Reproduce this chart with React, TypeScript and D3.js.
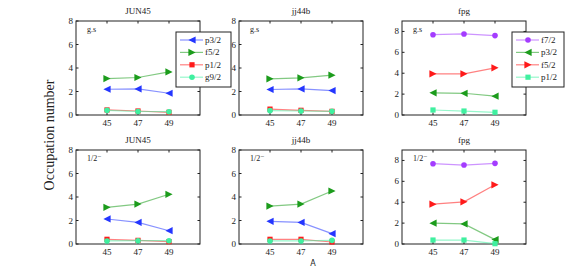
import React, { useRef, useEffect } from 'react';
import * as d3 from 'd3';

// mass numbers on the x axis
const A = [45, 47, 49];

// JUN45 interaction
const jun45Orbits = ['p3/2', 'f5/2', 'p1/2', 'g9/2'];
const jun45Gs = [
  [2.19, 2.22, 1.85],
  [3.1, 3.19, 3.67],
  [0.43, 0.34, 0.23],
  [0.4, 0.3, 0.28],
];
const jun45Half = [
  [2.13, 1.84, 1.13],
  [3.12, 3.4, 4.23],
  [0.4, 0.31, 0.2],
  [0.26, 0.28, 0.28],
];

// jj44b interaction
const jj44bOrbits = ['p3/2', 'f5/2', 'p1/2', 'g9/2'];
const jj44bGs = [
  [2.17, 2.22, 2.08],
  [3.08, 3.16, 3.39],
  [0.5, 0.4, 0.31],
  [0.37, 0.34, 0.31],
];
const jj44bHalf = [
  [1.93, 1.84, 0.88],
  [3.23, 3.4, 4.51],
  [0.4, 0.4, 0.17],
  [0.26, 0.26, 0.31],
];

// fpg interaction
const fpgOrbits = ['f7/2', 'p3/2', 'f5/2', 'p1/2'];
const fpgGs = [
  [7.69, 7.76, 7.6],
  [2.12, 2.08, 1.8],
  [3.94, 3.94, 4.52],
  [0.48, 0.38, 0.26],
];
const fpgHalf = [
  [7.69, 7.56, 7.72],
  [1.99, 1.92, 0.42],
  [3.81, 4.04, 5.67],
  [0.38, 0.38, 0.03],
];

const yTicks = [0, 2, 4, 6, 8];

const blue = '#2436ff';
const green = '#1c9c1c';
const red = '#ff1a1a';
const mint = '#3ff0a0';
const purple = '#a43cff';

const jjStyle: Record<string, [string, string]> = {
  'p3/2': [blue, 'left'],
  'f5/2': [green, 'right'],
  'p1/2': [red, 'square'],
  'g9/2': [mint, 'circle'],
};
const fpgStyle: Record<string, [string, string]> = {
  'f7/2': [purple, 'circle'],
  'p3/2': [green, 'left'],
  'f5/2': [red, 'right'],
  'p1/2': [mint, 'square'],
};

const panels = [
  { title: 'JUN45', tag: 'g.s', orbits: jun45Orbits, vals: jun45Gs, style: jjStyle, ymax: 8, col: 0, row: 0, legend: true },
  { title: 'jj44b', tag: 'g.s', orbits: jj44bOrbits, vals: jj44bGs, style: jjStyle, ymax: 8, col: 1, row: 0, legend: false },
  { title: 'fpg', tag: 'g.s', orbits: fpgOrbits, vals: fpgGs, style: fpgStyle, ymax: 9, col: 2, row: 0, legend: true },
  { title: 'JUN45', tag: '1/2\u207B', orbits: jun45Orbits, vals: jun45Half, style: jjStyle, ymax: 8, col: 0, row: 1, legend: false },
  { title: 'jj44b', tag: '1/2\u207B', orbits: jj44bOrbits, vals: jj44bHalf, style: jjStyle, ymax: 8, col: 1, row: 1, legend: false },
  { title: 'fpg', tag: '1/2\u207B', orbits: fpgOrbits, vals: fpgHalf, style: fpgStyle, ymax: 9, col: 2, row: 1, legend: false },
];

const font = 'Liberation Serif, DejaVu Serif, Times, serif';

function marker(g: any, kind: string, x: number, y: number, color: string) {
  const s = 3.6;
  if (kind === 'circle') {
    g.append('circle').attr('cx', x).attr('cy', y).attr('r', 2.8).attr('fill', color);
  } else if (kind === 'square') {
    g.append('rect').attr('x', x - 2.6).attr('y', y - 2.6).attr('width', 5.2).attr('height', 5.2).attr('fill', color);
  } else if (kind === 'left') {
    g.append('path').attr('d', `M${x - s},${y}L${x + s},${y - s}L${x + s},${y + s}Z`).attr('fill', color);
  } else {
    g.append('path').attr('d', `M${x + s},${y}L${x - s},${y - s}L${x - s},${y + s}Z`).attr('fill', color);
  }
}

const App = () => {
  const svgRef = useRef<SVGSVGElement>(null);

  useEffect(() => {
    const svg = d3.select(svgRef.current);
    svg.selectAll('*').remove();

    const lefts = [76, 239, 402];
    const w = 124;
    const tops = [21, 150];
    const h = 94;

    panels.forEach((p) => {
      const x0 = lefts[p.col];
      const y0 = tops[p.row];
      const x = d3.scaleLinear().domain([43, 51]).range([x0, x0 + w]);
      const y = d3.scaleLinear().domain([0, p.ymax]).range([y0 + h, y0]);
      const g = svg.append('g').style('font-family', font);

      // box
      g.append('rect').attr('x', x0).attr('y', y0).attr('width', w).attr('height', h)
        .attr('fill', 'none').attr('stroke', '#222').attr('stroke-width', 1);

      // y ticks
      yTicks.forEach((t) => {
        g.append('line').attr('x1', x0).attr('x2', x0 + 2.5).attr('y1', y(t)).attr('y2', y(t)).attr('stroke', '#222');
        g.append('line').attr('x1', x0 + w).attr('x2', x0 + w - 2.5).attr('y1', y(t)).attr('y2', y(t)).attr('stroke', '#222');
        g.append('text').attr('x', x0 - 3).attr('y', y(t) + 3).attr('text-anchor', 'end')
          .attr('font-size', 9).attr('fill', '#222').text(t);
      });
      // x ticks
      A.forEach((a) => {
        g.append('line').attr('x1', x(a)).attr('x2', x(a)).attr('y1', y0 + h).attr('y2', y0 + h - 2.5).attr('stroke', '#222');
        g.append('line').attr('x1', x(a)).attr('x2', x(a)).attr('y1', y0).attr('y2', y0 + 2.5).attr('stroke', '#222');
        g.append('text').attr('x', x(a)).attr('y', y0 + h + 11).attr('text-anchor', 'middle')
          .attr('font-size', 9).attr('fill', '#222').text(a);
      });

      g.append('text').attr('x', x0 + w / 2).attr('y', y0 - 7).attr('text-anchor', 'middle')
        .attr('font-size', 9).attr('fill', '#222').text(p.title);
      g.append('text').attr('x', x0 + 11).attr('y', y0 + 11)
        .attr('font-size', 8).attr('fill', '#222').text(p.tag);

      const line = d3.line<number>().x((_, i) => x(A[i])).y((d) => y(d));
      p.orbits.forEach((o, k) => {
        const [color, kind] = p.style[o];
        g.append('path').attr('d', line(p.vals[k])).attr('fill', 'none')
          .attr('stroke', color).attr('stroke-opacity', 0.55).attr('stroke-width', 1.2);
        p.vals[k].forEach((v, i) => marker(g, kind, x(A[i]), y(v), color));
      });

      if (p.legend) {
        const lx = p.col === 0 ? 176 : 512;
        const lw = p.col === 0 ? 55 : 52;
        const lg = svg.append('g').style('font-family', font);
        lg.append('rect').attr('x', lx).attr('y', 32).attr('width', lw).attr('height', 55)
          .attr('fill', '#fff').attr('stroke', '#222');
        p.orbits.forEach((o, k) => {
          const [color, kind] = p.style[o];
          const ly = 40 + k * 12.4;
          lg.append('line').attr('x1', lx + 4).attr('x2', lx + 27).attr('y1', ly).attr('y2', ly)
            .attr('stroke', color).attr('stroke-opacity', 0.55).attr('stroke-width', 1.2);
          marker(lg, kind, lx + 16, ly, color);
          lg.append('text').attr('x', lx + 29).attr('y', ly + 3)
            .attr('font-size', 9).attr('fill', '#222').text(o);
        });
      }
    });

    svg.append('text').attr('transform', 'translate(54,135) rotate(-90)').attr('text-anchor', 'middle')
      .style('font-family', font).attr('font-size', 14).attr('fill', '#222').text('Occupation number');
    svg.append('text').attr('x', 313).attr('y', 266).attr('text-anchor', 'middle')
      .style('font-family', 'DejaVu Sans, sans-serif').attr('font-size', 8).attr('fill', '#222').text('A');
  }, []);

  return <svg ref={svgRef} width={580} height={275} style={{ position: 'absolute', left: 0, top: 0, background: '#fff' }}></svg>;
};

export default App;
